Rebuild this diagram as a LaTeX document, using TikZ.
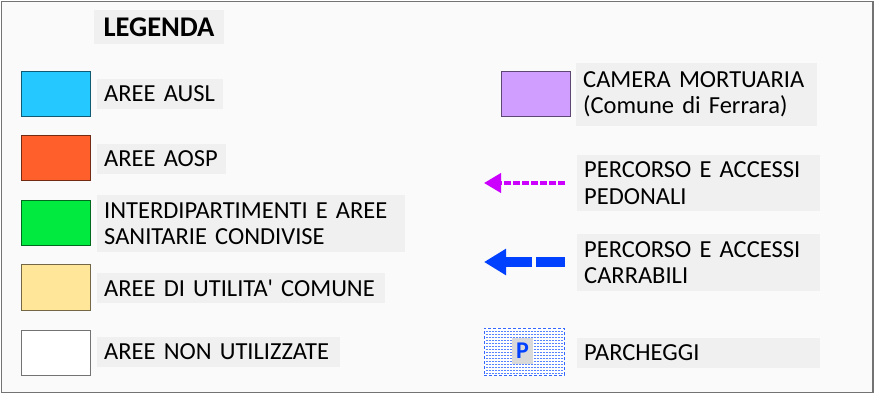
\documentclass[tikz,border=0pt]{standalone}
\usepackage{fontspec}
\setmainfont{Carlito}
\usetikzlibrary{arrows.meta}

\definecolor{bgfill}{HTML}{FAFAFA}
\definecolor{tagfill}{HTML}{F0F0F0}
\definecolor{ausl}{HTML}{26C9FF}
\definecolor{aosp}{HTML}{FF5F2A}
\definecolor{condivise}{HTML}{00EA40}
\definecolor{comune}{HTML}{FFE699}
\definecolor{mortuaria}{HTML}{CF9EFF}
\definecolor{pedonale}{HTML}{CC00FF}
\definecolor{carrabile}{HTML}{0041FF}

\newcommand\tagfont{\fontsize{24.5}{26.5}\selectfont\spaceskip=4.2pt\relax}

\begin{document}
\begin{tikzpicture}
    [ x = 1pt, y = -1pt
    , swatch/.style =
      { draw=#1!45!black, fill=#1, line width=1pt, minimum width=69pt,
        minimum height=45pt, inner sep=0pt }
    , tag/.style =
      { fill=tagfill, anchor=west, align=left, text width=#1,
        inner xsep=7pt, inner ysep=0pt, minimum height=30pt,
        font=\tagfont }
    ]
    \useasboundingbox (0,0) rectangle (875,395);
    \draw [fill=bgfill, draw=black!55, line width=1.5pt] (1.5,1.5) rectangle (873,392.5);

    \node [fill=tagfill, minimum width=130pt, minimum height=34pt,
      font=\fontsize{28.5}{32}\selectfont\bfseries] (title) at (159,27) {LEGENDA};

    % left column
    \node [swatch=ausl] (ausl) at (55.5,94.5) {};
    \node [tag=112pt] (auslt) at (97,94) {AREE AUSL};
    \node [swatch=aosp] (aosp) at (55.5,158.5) {};
    \node [tag=115pt] (aospt) at (97,159) {AREE AOSP};
    \node [swatch=condivise] (cond) at (55.5,223.5) {};
    \node [tag=294pt, minimum height=57pt] (condt) at (97,223.5)
      {INTERDIPARTIMENTI E AREE\\SANITARIE CONDIVISE};
    \node [swatch=comune] (com) at (55.5,287.5) {};
    \node [tag=274pt] (comt) at (97,288) {AREE DI UTILITA\textquotesingle{} COMUNE};
    \node [swatch=white] (nonu) at (55.5,352.5) {};
    \node [tag=229pt] (nonut) at (97,352) {AREE NON UTILIZZATE};

    % right column
    \node [swatch=mortuaria] (mort) at (536,94.5) {};
    \node [tag=227pt, minimum height=63pt] (mortt) at (576,94.5)
      {CAMERA MORTUARIA\\(Comune di Ferrara)};

    \coordinate (pedA) at (565,183);
    \coordinate (pedB) at (484,183);
    \draw [pedonale, line width=4pt, dash pattern=on 7pt off 2pt,
      -{Triangle[length=17pt, width=19pt]}] (pedA) -- (pedB);
    \node [tag=229pt, minimum height=56pt] (pedt) at (577,183)
      {PERCORSO E ACCESSI\\PEDONALI};

    \coordinate (carA) at (565,262);
    \coordinate (carB) at (484,262);
    \draw [carrabile, line width=10pt, dash pattern=on 29pt off 4pt,
      -{Triangle[length=22pt, width=25pt]}] (carA) -- (carB);
    \node [tag=229pt, minimum height=57pt] (cart) at (577,262.5)
      {PERCORSO E ACCESSI\\CARRABILI};

    \node [draw=carrabile!80, densely dashed, fill=white, line width=1pt,
      minimum width=80pt, minimum height=47pt, inner sep=0pt] (park) at (524,351.5) {};
    \foreach \yy in {331,334,...,373}
      \draw [carrabile!65, line width=0.8pt, dash pattern=on 2pt off 1pt]
        (485.5,\yy) -- (562.5,\yy);
    \node [fill=black!15, text=carrabile, minimum width=21pt, minimum height=26pt,
      inner sep=0pt, font=\fontsize{24}{26}\selectfont\bfseries] (p) at (522.5,351) {P};
    \node [tag=229pt] (parkt) at (577,353) {PARCHEGGI};
\end{tikzpicture}
\end{document}
